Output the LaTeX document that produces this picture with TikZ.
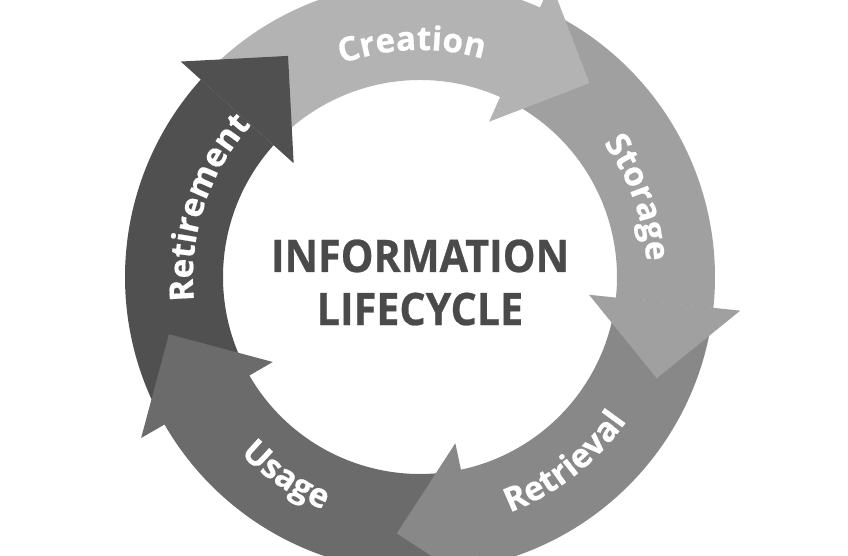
\documentclass[tikz,border=0pt]{standalone}
\usepackage{fontspec}
\setmainfont{Open Sans}
\newfontfamily\titlefont{Open Sans}[FakeStretch=0.92,FakeBold=0.6]
\newfontfamily\ringfamily{Open Sans}[FakeBold=0.5]
\usetikzlibrary{calc,decorations.text}

\definecolor{creationgray}{HTML}{B3B3B3}
\definecolor{storagegray}{HTML}{A0A0A0}
\definecolor{retrievalgray}{HTML}{888888}
\definecolor{usagegray}{HTML}{6B6B6B}
\definecolor{retirementgray}{HTML}{505050}
\definecolor{titlegray}{HTML}{4A4A4A}

\newcommand{\ringfont}{\ringfamily\bfseries\fontsize{19}{24}\selectfont}

\begin{document}
\begin{tikzpicture}[
  arc label/.style={
    decorate,
    decoration={text along path, text align=center, text color=white}
  },
  title text/.style={
    align=center,
    text=titlegray,
    inner sep=0pt,
    font=\titlefont\bfseries\fontsize{25.5}{30.2}\selectfont
  }
]

\path[use as bounding box,fill=white] (-8.4,-5.58) rectangle (8.56,5.54);

% ring bands: outer 5.9, inner 3.94
\fill[creationgray] (138:5.9) arc[start angle=138,end angle=66,radius=5.9]
  -- (66:3.94) arc[start angle=66,end angle=138,radius=3.94] -- cycle;
\fill[storagegray] (66:5.9) arc[start angle=66,end angle=-6,radius=5.9]
  -- (-6:3.94) arc[start angle=-6,end angle=66,radius=3.94] -- cycle;
\fill[retrievalgray] (-6:5.9) arc[start angle=-6,end angle=-78,radius=5.9]
  -- (-78:3.94) arc[start angle=-78,end angle=-6,radius=3.94] -- cycle;
\fill[usagegray] (-78:5.9) arc[start angle=-78,end angle=-150,radius=5.9]
  -- (-150:3.94) arc[start angle=-150,end angle=-78,radius=3.94] -- cycle;
\fill[retirementgray] (210:5.9) arc[start angle=210,end angle=138,radius=5.9]
  -- (138:3.94) arc[start angle=138,end angle=210,radius=3.94] -- cycle;

% arrow heads
\fill[creationgray] (66:6.44) -- ($(66:4.92)+(-24:1.52)$) -- (66:3.40) -- cycle;
\fill[storagegray] (-6:6.44) -- ($(-6:4.92)+(-96:1.52)$) -- (-6:3.40) -- cycle;
\fill[retrievalgray] (-78:6.44) -- ($(-78:4.92)+(-168:1.52)$) -- (-78:3.40) -- cycle;
\fill[usagegray] (-150:6.44) -- ($(-150:4.92)+(-240:1.52)$) -- (-150:3.40) -- cycle;
\fill[retirementgray] (138:6.44) -- ($(138:4.92)+(48:1.52)$) -- (138:3.40) -- cycle;

% labels along the ring
\path[arc label,decoration={text={|\ringfont|Creation}}]
  (132:4.54) arc[start angle=132,end angle=52,radius=4.54];
\path[arc label,decoration={text={|\ringfont|Storage}}]
  (60:4.54) arc[start angle=60,end angle=-20,radius=4.54];
\path[arc label,decoration={text={|\ringfont|Retrieval}}]
  (-92:5.04) arc[start angle=-92,end angle=-12,radius=5.04];
\path[arc label,decoration={text={|\ringfont|Usage}}]
  (-164:5.04) arc[start angle=-164,end angle=-84,radius=5.04];
\path[arc label,decoration={text={|\ringfont|Retirement}}]
  (202:4.54) arc[start angle=202,end angle=122,radius=4.54];

\node[title text] (title) at (0,-0.11) {INFORMATION\\LIFECYCLE};

\end{tikzpicture}
\end{document}
